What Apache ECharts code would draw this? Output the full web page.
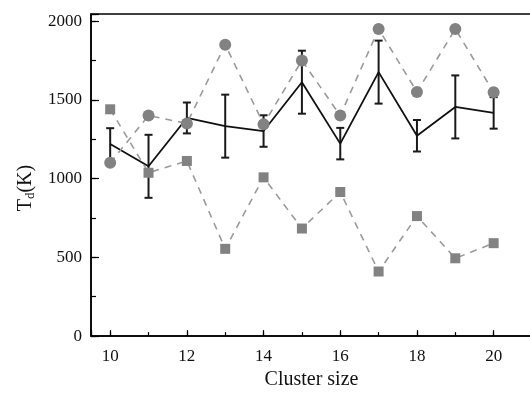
<!DOCTYPE html>
<html>
<head>
<meta charset="utf-8">
<script src="https://cdn.jsdelivr.net/npm/echarts@6/dist/echarts.min.js"></script>
<style>
  html, body { margin: 0; padding: 0; background: #fff; overflow: hidden; }
  #chart { width: 535px; height: 395px; }
</style>
</head>
<body>
<div id="chart"></div>
<script>
const clusterSize = [10, 11, 12, 13, 14, 15, 16, 17, 18, 19, 20];
const tdCircle = [1100, 1400, 1350, 1850, 1345, 1750, 1400, 1950, 1550, 1950, 1548];
const tdSquare = [1440, 1037, 1112, 554, 1008, 683, 915, 410, 762, 494, 590];
const tdMean = [1220, 1078, 1385, 1333, 1302, 1612, 1222, 1676, 1272, 1455, 1417];
const tdErr = [100, 200, 98, 200, 100, 200, 100, 200, 100, 200, 100];

const FONT = "Liberation Serif";
// the right frame of the plot sits just past the window edge, so the div is a bit wider
const chart = echarts.init(document.getElementById("chart"), null, { renderer: "canvas" });

const pairs = (ys) => clusterSize.map((x, i) => [x, ys[i]]);

chart.setOption({
  backgroundColor: "#fff",
  animation: false,
  grid: {
    left: 91, top: 14, bottom: 54, right: 1.5,
    show: true, borderColor: "#000", borderWidth: 1.5,
  },
  xAxis: [
    {
      type: "value", min: 9.5, max: 21, minInterval: 2, maxInterval: 2,
      name: "Cluster size", nameLocation: "middle", nameGap: 27,
      nameTextStyle: { fontFamily: FONT, fontSize: 20, color: "#111" },
      axisLine: { lineStyle: { color: "#000", width: 1.5 } },
      axisTick: { inside: true, length: 6, lineStyle: { color: "#000", width: 1.2 } },
      axisLabel: {
        fontFamily: FONT, fontSize: 17, color: "#111", margin: 12,
        formatter: (v) => (v % 2 === 0 && v <= 20 ? String(v) : ""),
      },
      splitLine: { show: false },
    },
    {
      type: "value", min: 9.5, max: 21, minInterval: 1, maxInterval: 1,
      position: "bottom",
      axisLine: { show: false },
      axisTick: { inside: true, length: 4, lineStyle: { color: "#000", width: 1.2 } },
      axisLabel: { show: false },
      splitLine: { show: false },
    },
  ],
  yAxis: [
    {
      type: "value", min: 0, max: 2045, interval: 500,
      name: "T{s|d}(K)", nameLocation: "middle", nameGap: 54,
      nameTextStyle: {
        fontFamily: FONT, fontSize: 20, color: "#111", padding: [0, 26, 0, 0],
        rich: { s: { fontFamily: FONT, fontSize: 13, color: "#111", padding: [9, 0, 0, 0] } },
      },
      axisLine: { lineStyle: { color: "#000", width: 1.5 } },
      axisTick: { inside: true, length: 8, lineStyle: { color: "#000", width: 1.2 } },
      axisLabel: {
        fontFamily: FONT, fontSize: 17, color: "#111", margin: 9,
        formatter: (v) => (v % 500 === 0 ? String(v) : ""),
      },
      splitLine: { show: false },
    },
    {
      type: "value", min: 0, max: 2045, interval: 250, position: "left",
      axisLine: { show: false },
      axisTick: { inside: true, length: 5, lineStyle: { color: "#000", width: 1.2 } },
      axisLabel: { show: false },
      splitLine: { show: false },
    },
  ],
  series: [
    {
      type: "custom",
      data: clusterSize.map((x, i) => [x, tdMean[i] - tdErr[i], tdMean[i] + tdErr[i]]),
      renderItem: (params, api) => {
        const lo = api.coord([api.value(0), api.value(1)]);
        const hi = api.coord([api.value(0), api.value(2)]);
        const w = 4;
        const style = { stroke: "#1a1a1a", lineWidth: 2 };
        return {
          type: "group",
          children: [
            { type: "line", shape: { x1: lo[0], y1: lo[1], x2: hi[0], y2: hi[1] }, style },
            { type: "line", shape: { x1: lo[0] - w, y1: lo[1], x2: lo[0] + w, y2: lo[1] }, style },
            { type: "line", shape: { x1: hi[0] - w, y1: hi[1], x2: hi[0] + w, y2: hi[1] }, style },
          ],
        };
      },
      z: 2,
    },
    {
      type: "line", data: pairs(tdMean), symbol: "none",
      lineStyle: { color: "#111", width: 1.8 }, z: 3,
    },
    {
      type: "line", data: pairs(tdCircle), symbol: "circle", symbolSize: 12,
      lineStyle: { color: "#9a9a9a", width: 1.6, type: [7, 6] },
      itemStyle: { color: "#828282" }, z: 4,
    },
    {
      type: "line", data: pairs(tdSquare), symbol: "rect", symbolSize: 10,
      lineStyle: { color: "#9a9a9a", width: 1.6, type: [7, 6] },
      itemStyle: { color: "#828282" }, z: 4,
    },
  ],
});
</script>
</body>
</html>
